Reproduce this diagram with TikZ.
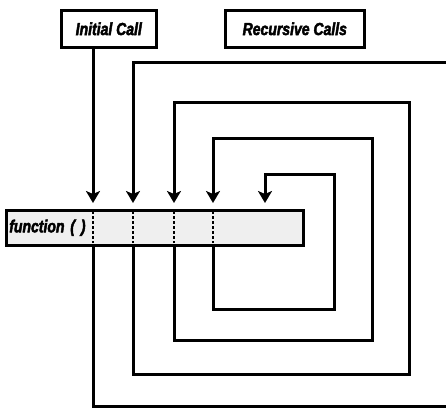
\documentclass[tikz,border=0pt]{standalone}
\usepackage{fontspec}
\newfontfamily\lblfont{Liberation Sans Bold Italic}[FakeStretch=0.8, FakeBold=2.5]
\usetikzlibrary{arrows.meta}
\definecolor{boxgray}{HTML}{EFEFEF}
\begin{document}
\begin{tikzpicture}[x=1pt,y=-1pt,
  lbl/.style={font=\lblfont\fontsize{17.5}{20}\selectfont},
  labelbox/.style={draw, line width=2.6pt, lbl, inner sep=0pt, anchor=north west},
  conn/.style={line width=3pt},
  arr/.style={conn, -{Stealth[length=12pt,width=14pt,inset=3pt]}},
  dots/.style={line width=2.6pt, dash pattern=on 2.5pt off 2.5pt}
]
\useasboundingbox (0,0) rectangle (446,408);
\clip (0,0) rectangle (446,408);
\node[labelbox, minimum width=95pt, minimum height=37pt] (init) at (60,9) {Initial Call};
\node[labelbox, minimum width=139pt, minimum height=37pt] (rec) at (224,9) {Recursive Calls};
\node[draw, line width=2.6pt, fill=boxgray, lbl, anchor=north west, minimum width=297pt, minimum height=35pt,
      text width=291pt, inner xsep=3pt, inner ysep=0pt, align=left] (func) at (5,209) {function ( )};
% arrow tips
\coordinate (t1) at (93,203);
\coordinate (t2) at (133,203);
\coordinate (t3) at (174,203);
\coordinate (t4) at (213,203);
\coordinate (t5) at (265,203);
% dotted separators
\foreach \x in {93,133,174,213}
  \draw[dots] (\x,211) -- (\x,243);
% initial call
\draw[arr] (init.south -| t1) -- (t1);
% loops
\draw[arr] (func.south -| t1) -- (93,406) -- (470,406) -- (470,62) -- (133,62) -- (t2);
\draw[arr] (func.south -| t2) -- (133,374) -- (409,374) -- (409,102) -- (174,102) -- (t3);
\draw[arr] (func.south -| t3) -- (174,340) -- (372,340) -- (372,138) -- (213,138) -- (t4);
\draw[arr] (func.south -| t4) -- (213,309) -- (334,309) -- (334,174) -- (265,174) -- (t5);
\end{tikzpicture}
\end{document}
